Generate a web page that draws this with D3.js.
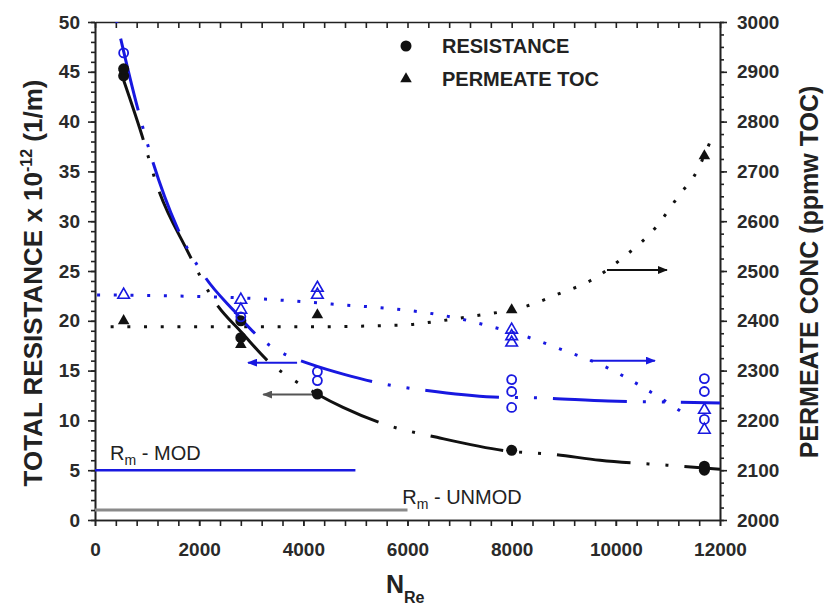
<!DOCTYPE html>
<html lang="en">
<head>
<meta charset="UTF-8">
<title>Resistance and permeate TOC vs NRe</title>
<script src="https://d3js.org/d3.v7.min.js"></script>
<style>
    body { margin: 0; background: #fff; }
    text { font-family: Arial, "Liberation Sans", sans-serif; font-weight: bold; fill: #222; }
    .axis path, .axis line { stroke: #222; stroke-width: 1.6; }
    .axis text { font-size: 19px; fill: #2a2a2a; }
</style>
</head>
<body>
<svg id="chart" width="825" height="607"></svg>
<script>
    // tick labels
    const xTickLabels = [0, 2000, 4000, 6000, 8000, 10000, 12000];
    const leftTickLabels = [0, 5, 10, 15, 20, 25, 30, 35, 40, 45, 50];
    const rightTickLabels = [2000, 2100, 2200, 2300, 2400, 2500, 2600, 2700, 2800, 2900, 3000];

    // unmodified membrane (black): resistance (left axis) and permeate TOC (right axis)
    const unmodResNre = [550, 550, 2800, 2800, 4270, 8000, 11700, 11700];
    const unmodRes    = [44.6, 45.3, 20.0, 18.3, 12.65, 7.0, 5.0, 5.4];
    const unmodTocNre = [550, 2800, 4270, 8000, 11700];
    const unmodToc    = [2400, 2352, 2412, 2422, 2731];

    // modified membrane (blue)
    const modResNre = [550, 2800, 4270, 4270, 8000, 8000, 8000, 11700, 11700, 11700];
    const modRes    = [46.9, 20.4, 14.9, 14.0, 14.1, 12.9, 11.3, 14.2, 12.9, 10.1];
    const modTocNre = [550, 2800, 2800, 4270, 4270, 8000, 8000, 8000, 11700, 11700];
    const modToc    = [2452, 2442, 2422, 2466, 2452, 2382, 2369, 2356, 2221, 2181];

    // fitted curves
    const unmodResFitNre = [480, 902, 1190, 1766, 2304, 2822, 3398, 3744, 4262, 4762, 5626, 6566, 7968, 8774, 9696, 10982, 12000];
    const unmodResFit    = [45.2, 38.6, 33.6, 27.1, 21.9, 18.8, 15.6, 14.3, 12.65, 11.3, 9.5, 8.3, 6.9, 6.6, 6.0, 5.5, 5.1];
    const modResFitNre = [384, 826, 1114, 1574, 2112, 2669, 3206, 3552, 4166, 4800, 5414, 6374, 7642, 8582, 9850, 10848, 12000];
    const modResFit    = [50.8, 41.2, 35.9, 29.4, 24.4, 21.0, 18.1, 16.9, 15.6, 14.6, 13.8, 13.0, 12.35, 12.25, 11.95, 11.85, 11.75];
    const unmodTocFitNre = [300, 2000, 4000, 6000, 6500, 7300, 8000, 8300, 8900, 9500, 10150, 10770, 11250, 11500, 11800];
    const unmodTocFit    = [2388, 2388, 2388, 2392, 2398, 2410, 2422, 2430, 2454, 2480, 2528, 2588, 2657, 2690, 2757];
    const modTocFitNre = [40, 2800, 4760, 5720, 6370, 7010, 7620, 8260, 8890, 9850, 10480, 11120, 11430];
    const modTocFit    = [2452, 2446, 2432, 2424, 2416, 2404, 2388, 2369, 2345, 2305, 2269, 2227, 2205];

    // membrane resistance reference lines
    const rmNames = ["MOD", "UNMOD"];
    const rmValues = [5, 1];
    const rmEndNre = [5000, 6000];

    // axis arrows (left-axis units)
    const arrowFromNre = [9830, 9500, 3880, 4250];
    const arrowToNre   = [10980, 10750, 2940, 3230];
    const arrowLevel   = [25.1, 16.0, 15.8, 12.6];

    const blue = "#1818e0";
    const arrowColors = ["#111", blue, blue, "#555"];

    const W = 825, H = 607;
    const margin = {top: 22, right: 105, bottom: 87, left: 95};
    const svg = d3.select("#chart");

    const x = d3.scaleLinear().domain([0, 12000]).range([margin.left, W - margin.right]);
    const y = d3.scaleLinear().domain([0, 50]).range([H - margin.bottom, margin.top]);
    const y2 = d3.scaleLinear().domain([2000, 3000]).range([H - margin.bottom, margin.top]);
    const plain = d3.format("d");

    svg.append("defs").append("clipPath").attr("id", "plot")
        .append("rect")
        .attr("x", x(0)).attr("y", y(50))
        .attr("width", x(12000) - x(0)).attr("height", y(0) - y(50));

    // axes
    svg.append("g").attr("class", "axis").attr("transform", `translate(0,${y(0)})`)
        .call(d3.axisBottom(x).tickValues(d3.range(0, 12001, 400)).tickSize(6).tickSizeOuter(0).tickFormat(""));
    svg.append("g").attr("class", "axis").attr("transform", `translate(0,${y(0)})`)
        .call(d3.axisBottom(x).tickValues(xTickLabels).tickSize(6).tickPadding(17).tickSizeOuter(0).tickFormat(plain));
    svg.append("g").attr("class", "axis").attr("transform", `translate(0,${y(50)})`)
        .call(d3.axisTop(x).tickValues(d3.range(0, 12001, 400)).tickSize(-6).tickSizeOuter(0).tickFormat(""));

    svg.append("g").attr("class", "axis").attr("transform", `translate(${x(0)},0)`)
        .call(d3.axisLeft(y).tickValues(d3.range(0, 51, 1)).tickSize(4).tickSizeOuter(0).tickFormat(""));
    svg.append("g").attr("class", "axis").attr("transform", `translate(${x(0)},0)`)
        .call(d3.axisLeft(y).tickValues(leftTickLabels).tickSize(7).tickPadding(8).tickSizeOuter(0).tickFormat(plain));

    svg.append("g").attr("class", "axis").attr("transform", `translate(${x(12000)},0)`)
        .call(d3.axisRight(y2).tickValues(d3.range(2000, 3001, 25)).tickSize(4).tickSizeOuter(0).tickFormat(""));
    svg.append("g").attr("class", "axis").attr("transform", `translate(${x(12000)},0)`)
        .call(d3.axisRight(y2).tickValues(rightTickLabels).tickSize(7).tickPadding(10).tickSizeOuter(0).tickFormat(plain));

    // axis titles
    const leftTitle = svg.append("text")
        .attr("transform", `translate(42,283) rotate(-90)`)
        .attr("text-anchor", "middle")
        .style("font-size", "26px");
    leftTitle.append("tspan").text("TOTAL RESISTANCE x 10");
    leftTitle.append("tspan").attr("dy", -10).style("font-size", "16px").text("-12");
    leftTitle.append("tspan").attr("dy", 10).text(" (1/m)");

    svg.append("text")
        .attr("transform", `translate(818,272) rotate(-90)`)
        .attr("text-anchor", "middle")
        .style("font-size", "25px")
        .text("PERMEATE CONC (ppmw TOC)");

    const xTitle = svg.append("text").attr("x", 386).attr("y", 593).style("font-size", "25px");
    xTitle.append("tspan").text("N");
    xTitle.append("tspan").attr("dy", 10).style("font-size", "16px").text("Re");

    // reference lines Rm
    const rmColors = [blue, "#8a8a8a"];
    const rmWidths = [2.5, 3];
    rmValues.forEach((v, i) => {
        svg.append("line")
            .attr("x1", x(0)).attr("x2", x(rmEndNre[i]))
            .attr("y1", y(v)).attr("y2", y(v))
            .attr("stroke", rmColors[i]).attr("stroke-width", rmWidths[i]);
    });
    const rmLabelAt = [[290, 6.0], [5900, 1.6]];
    rmNames.forEach((name, i) => {
        const t = svg.append("text")
            .attr("x", x(rmLabelAt[i][0])).attr("y", y(rmLabelAt[i][1]))
            .style("font-size", "20px").style("font-weight", "normal");
        t.append("tspan").text("R");
        t.append("tspan").attr("dy", 5).style("font-size", "14px").text("m");
        t.append("tspan").attr("dy", -5).text(" - " + name);
    });

    // fitted curves
    const plot = svg.append("g").attr("clip-path", "url(#plot)");
    function drawFit(nre, vals, scale, color, dash, width, offset) {
        const pts = nre.map((d, i) => [x(d), scale(vals[i])]);
        plot.append("path")
            .attr("d", d3.line().curve(d3.curveMonotoneX)(pts))
            .attr("fill", "none")
            .attr("stroke", color)
            .attr("stroke-width", width)
            .attr("stroke-dasharray", dash)
            .attr("stroke-dashoffset", offset || 0);
    }
    const dashDotDot = "74 16 3 16 3 16";
    const dotted = "3 13.7";
    drawFit(unmodTocFitNre, unmodTocFit, y2, "#111", dotted, 3);
    drawFit(modTocFitNre, modTocFit, y2, blue, dotted, 3);
    drawFit(unmodResFitNre, unmodResFit, y, "#111", dashDotDot, 3);
    drawFit(modResFitNre, modResFit, y, blue, dashDotDot, 3, -25);

    // arrows
    const defs = svg.select("defs");
    arrowColors.forEach((c, i) => {
        defs.append("marker")
            .attr("id", "head" + i)
            .attr("viewBox", "0 0 10 8")
            .attr("refX", 9).attr("refY", 4)
            .attr("markerWidth", 10).attr("markerHeight", 8)
            .attr("markerUnits", "userSpaceOnUse")
            .attr("orient", "auto")
            .append("path").attr("d", "M0,0 L10,4 L0,8 Z").attr("fill", c);
    });
    arrowLevel.forEach((lv, i) => {
        svg.append("line")
            .attr("x1", x(arrowFromNre[i])).attr("x2", x(arrowToNre[i]))
            .attr("y1", y(lv)).attr("y2", y(lv))
            .attr("stroke", arrowColors[i]).attr("stroke-width", 2)
            .attr("marker-end", `url(#head${i})`);
    });

    // markers
    const tri = d3.symbol().type(d3.symbolTriangle).size(58);
    svg.selectAll("circle.unmod")
        .data(unmodRes).enter().append("circle")
        .attr("cx", (d, i) => x(unmodResNre[i]))
        .attr("cy", d => y(d))
        .attr("r", 5.5).attr("fill", "#111");
    svg.selectAll("path.unmodToc")
        .data(unmodToc).enter().append("path")
        .attr("d", tri)
        .attr("transform", (d, i) => `translate(${x(unmodTocNre[i])},${y2(d)})`)
        .attr("fill", "#111");
    svg.selectAll("circle.mod")
        .data(modRes).enter().append("circle")
        .attr("cx", (d, i) => x(modResNre[i]))
        .attr("cy", d => y(d))
        .attr("r", 4.5).attr("fill", "none")
        .attr("stroke", blue).attr("stroke-width", 1.8);
    svg.selectAll("path.modToc")
        .data(modToc).enter().append("path")
        .attr("d", tri)
        .attr("transform", (d, i) => `translate(${x(modTocNre[i])},${y2(d)})`)
        .attr("fill", "none").attr("stroke", blue).attr("stroke-width", 1.6);

    // legend
    svg.append("circle").attr("cx", 406).attr("cy", 46).attr("r", 5.5).attr("fill", "#111");
    svg.append("path").attr("d", tri).attr("transform", "translate(406,79)").attr("fill", "#111");
    svg.append("text").attr("x", 442).attr("y", 53).style("font-size", "20px").text("RESISTANCE");
    svg.append("text").attr("x", 442).attr("y", 86).style("font-size", "20px").text("PERMEATE TOC");
</script>
</body>
</html>
